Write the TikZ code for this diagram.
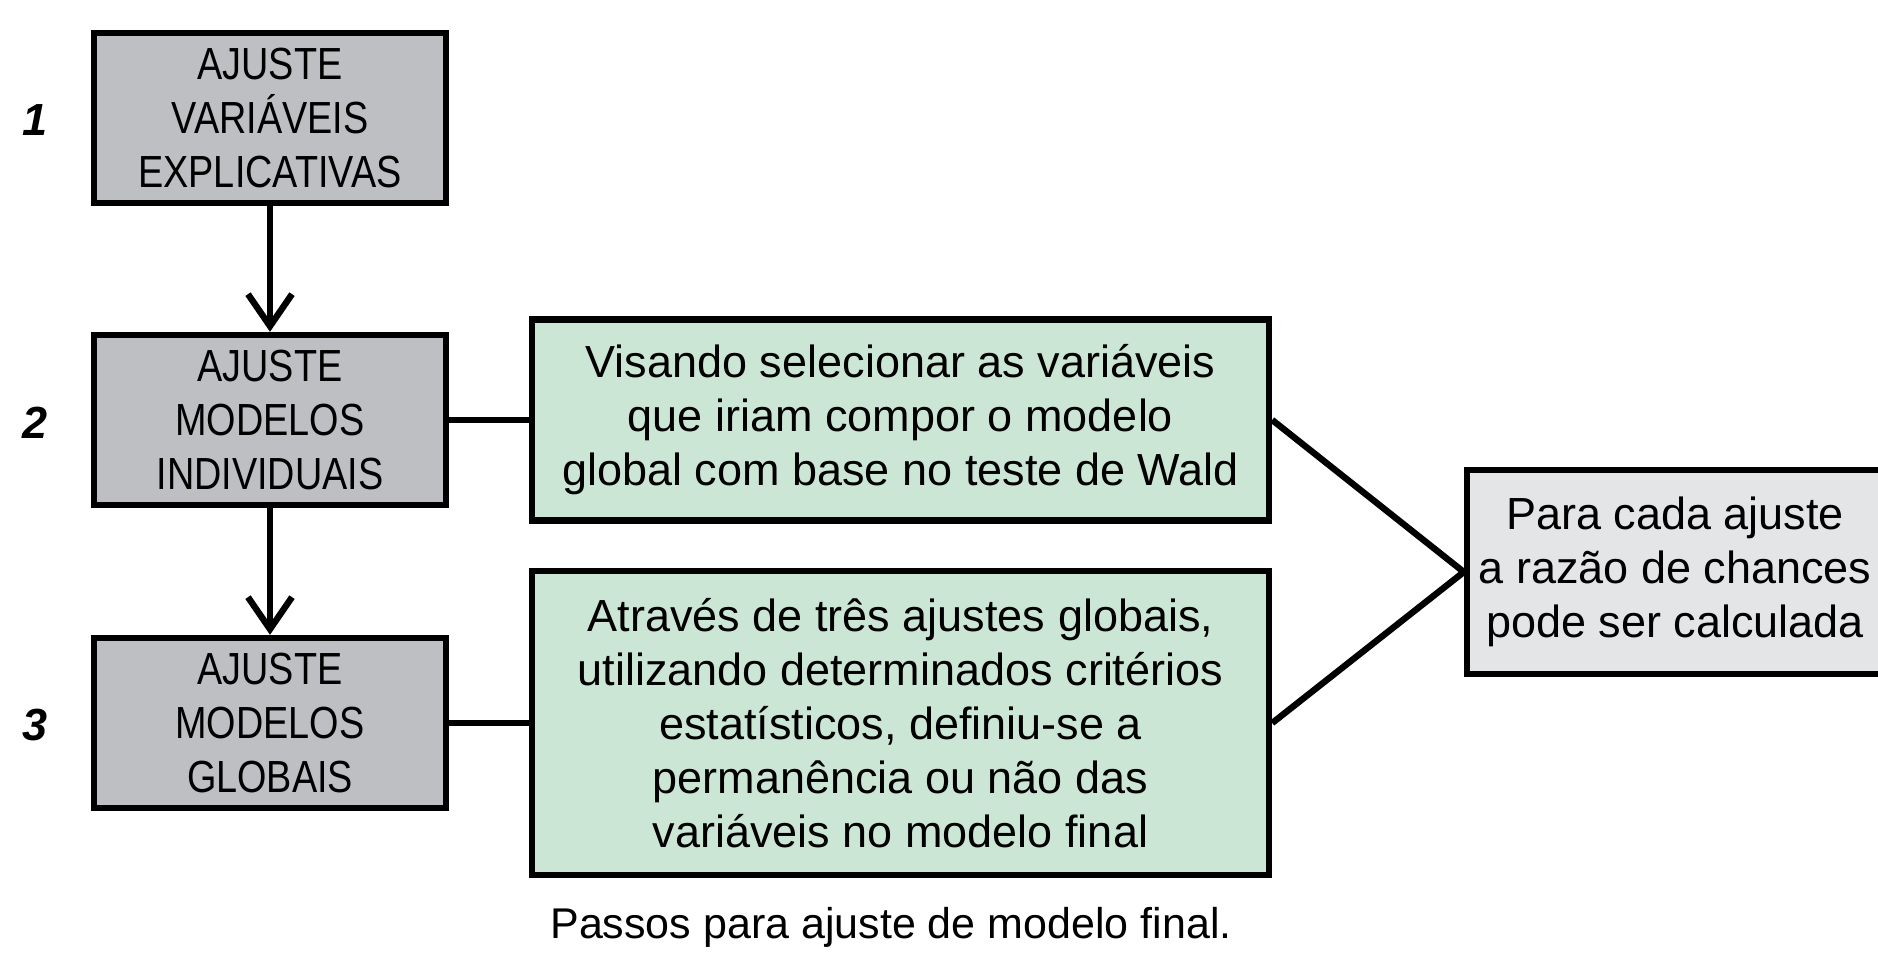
\documentclass[tikz,border=0pt]{standalone}
\usepackage{fontspec}
\setmainfont{Liberation Sans}
\newfontfamily\capsfont[FakeStretch=0.84]{Liberation Sans}
\usetikzlibrary{arrows.meta}

\definecolor{stepgray}{RGB}{190,191,195}
\definecolor{notegreen}{RGB}{204,230,214}
\definecolor{resultgray}{RGB}{228,229,231}

\tikzset{
  stepbox/.style={draw, line width=3.2pt, fill=stepgray, minimum width=176pt, minimum height=85pt,
    inner sep=0pt, align=center, font=\capsfont\fontsize{22.5}{27}\selectfont},
  notebox/.style={draw, line width=3.2pt, fill=notegreen, minimum width=368.5pt,
    inner sep=0pt, align=center, font=\fontsize{22.5}{27}\selectfont},
  resultbox/.style={draw, line width=3.2pt, fill=resultgray, minimum width=208pt, minimum height=102pt,
    inner sep=0pt, align=center, font=\fontsize{22.5}{27}\selectfont},
  stepnum/.style={font=\bfseries\itshape\fontsize{22.5}{27}\selectfont},
  flow/.style={line width=3.2pt, -{Straight Barb[length=16pt,width=22pt,line width=3.2pt]}},
  link/.style={line width=3.2pt}
}

\begin{document}
\begin{tikzpicture}[x=0.5pt,y=-0.5pt]
	\useasboundingbox (0,0) rectangle (1878,953);

	% Steps (left column)
	\node[stepbox] (s1) at (270,118) {AJUSTE\\VARIÁVEIS\\EXPLICATIVAS};
	\node[stepbox] (s2) at (270,420) {AJUSTE\\MODELOS\\INDIVIDUAIS};
	\node[stepbox] (s3) at (270,723) {AJUSTE\\MODELOS\\GLOBAIS};

	% Step numbers
	\node[stepnum] (n1) at (35,120) {1};
	\node[stepnum] (n2) at (35,423) {2};
	\node[stepnum] (n3) at (35,725) {3};

	% Notes (middle column)
	\node[notebox, minimum height=100.5pt] (v) at (900.5,420)
		{Visando selecionar as variáveis\\que iriam compor o modelo\\global com base no teste de Wald};
	\node[notebox, minimum height=152pt] (g) at (900.5,723)
		{Através de três ajustes globais,\\utilizando determinados critérios\\estatísticos, definiu-se a\\permanência ou não das\\variáveis no modelo final};

	% Result (right)
	\node[resultbox] (r) at (1675,572)
		{Para cada ajuste\\a razão de chances\\pode ser calculada};

	% Caption
	\node[anchor=base, font=\fontsize{21.5}{26}\selectfont] (cap) at (891,938)
		{Passos para ajuste de modelo final.};

	% Arrows between steps
	\draw[flow] (s1.south) -- (s2.north);
	\draw[flow] (s2.south) -- (s3.north);

	% Steps to notes
	\draw[link] (s2.east) -- (v.west);
	\draw[link] (s3.east) -- (g.west);

	% Notes to result
	\draw[link] (v.east) -- (r.west);
	\draw[link] (g.east) -- (r.west);
\end{tikzpicture}
\end{document}
